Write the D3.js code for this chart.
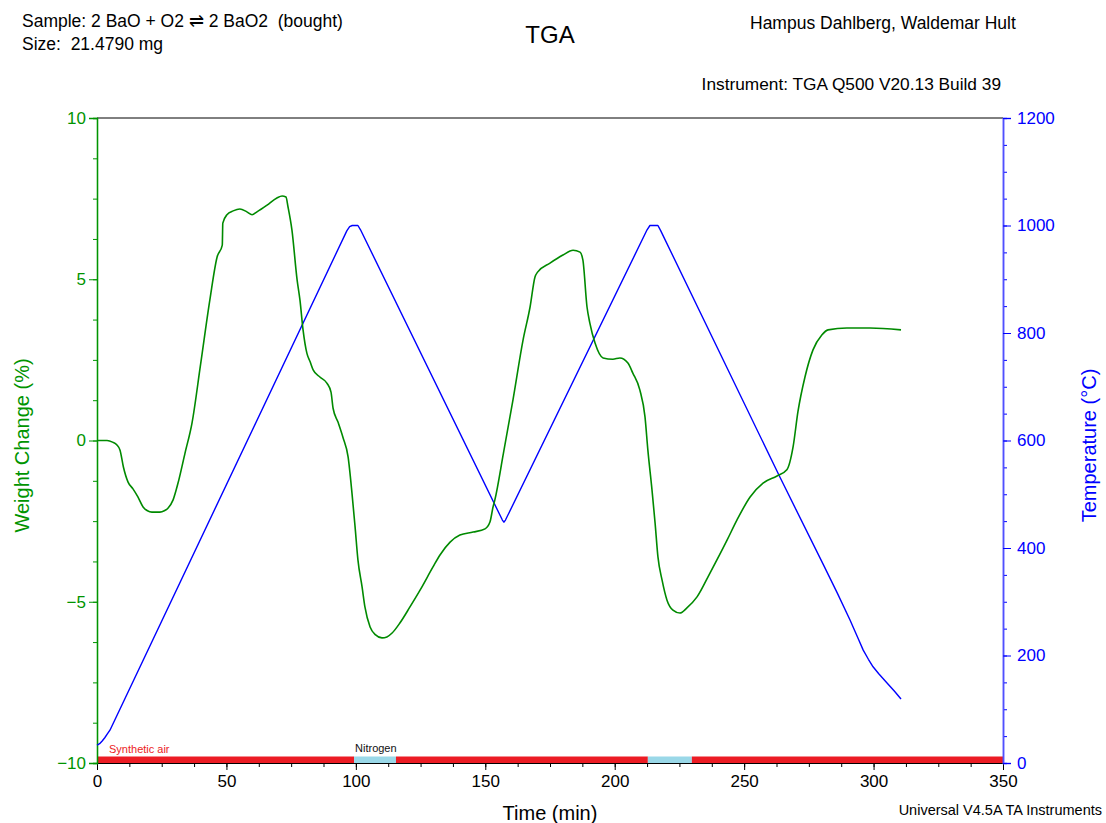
<!DOCTYPE html>
<html>
<head>
<meta charset="utf-8">
<script src="https://cdn.jsdelivr.net/npm/d3@7"></script>
<style>
  html, body { margin: 0; padding: 0; background: #fff; }
  svg { display: block; font-family: "Liberation Sans", Arial, sans-serif; }
</style>
</head>
<body>
<svg id="chart" width="1106" height="823"></svg>
<script>
// Weight change trace (time in min, weight change in %)
const weightTime = [0, 3.9, 6, 7.7, 8.9, 10.2, 12, 13.9, 15.8, 17.8, 19.5, 21.2, 24.3, 26, 27.4, 29.4, 31.3, 34, 36.7,
  40, 43.6, 46.4, 48.4, 48.6, 50.2, 52.6, 55.2, 57.9, 59.9, 61.8, 65.7, 69.5, 71.5, 73, 73.8, 75.3, 77.3, 78.4, 79.6,
  81.1, 82.3, 83.5, 86.1, 88.8, 90.4, 91.2, 93.1, 95, 97, 98.5, 99.7, 100.8, 102.4, 103.5, 105.5, 107.5, 110.1, 112,
  114, 117, 120.9, 124.8, 129.8, 132.5, 136.4, 140.2, 145.3, 149.9, 151.8, 153, 153.7, 157, 160.7, 164.6, 167.3, 169.2,
  170.2, 175, 180, 183.9, 186.6, 187.7, 189.3, 190.4, 192.4, 195.5, 199.3, 202, 205.1, 207, 209.7, 211.7, 212.8, 214.4,
  215.6, 216.7, 218.3, 220.2, 222.5, 225.2, 227.9, 231.8, 236.8, 243.4, 247.2, 252.3, 257.3, 262.7, 266.5, 268.9,
  270.8, 273.5, 276.6, 280, 282.4, 289.7, 298.6, 310.6];
const weightPct = [0, 0, -0.05, -0.14, -0.3, -0.82, -1.29, -1.5, -1.75, -2.06, -2.18, -2.22, -2.22, -2.18, -2.1, -1.84, -1.32, -0.39, 0.54,
  2.35, 4.36, 5.69, 6.06, 6.74, 7.0, 7.12, 7.18, 7.09, 7.0, 7.09, 7.3, 7.52, 7.58, 7.55, 7.24, 6.53, 4.98, 4.36, 3.43,
  2.7, 2.45, 2.19, 1.97, 1.78, 1.5, 1.0, 0.57, 0.1, -0.51, -1.63, -2.68, -3.7, -4.54, -5.16, -5.78, -6.02, -6.12, -6.09,
  -5.97, -5.66, -5.16, -4.64, -3.92, -3.55, -3.15, -2.93, -2.84, -2.74, -2.53, -2.06, -1.84, -0.4, 1.26, 3.12, 4.14, 5.07,
  5.22, 5.5, 5.75, 5.9, 5.84, 5.6, 4.14, 3.64, 3.02, 2.56, 2.52, 2.56, 2.4, 2.09, 1.57, 0.73, -0.29, -1.53,
  -2.56, -3.61, -4.33, -4.95, -5.26, -5.35, -5.19, -4.85, -4.11, -3.09, -2.47, -1.75, -1.32, -1.1, -0.91, -0.2,
  0.9, 1.97, 2.81, 3.27, 3.43, 3.49, 3.49, 3.43];

// Temperature programme (time in min, temperature in °C)
const tempTime = [0, 1, 2, 3, 4, 5, 96.5, 97.6, 98.6, 100.8, 101.8, 156.6, 157.2, 157.8, 212.5, 213.6, 216.7, 217.8,
  263.8, 280.5, 286, 290.9, 294, 296, 298, 299.8, 302, 305.2, 308, 310.6];
const tempC    = [33, 36, 41, 47, 54, 61, 990, 998, 1000, 1000, 992, 452, 448, 452, 992, 1000, 1000, 990,
  532, 370, 316, 266, 232, 210, 193, 179, 166, 149, 134, 119];

// Purge gas segments
const gasStart = [0, 99.3, 115.5, 212.8, 229.8];
const gasEnd   = [99.3, 115.5, 212.8, 229.8, 350];
const gasName  = ["Synthetic air", "Nitrogen", "Synthetic air", "Nitrogen", "Synthetic air"];

// Axis ticks
const timeTicks = [0, 50, 100, 150, 200, 250, 300, 350];
const weightTicks = [-10, -5, 0, 5, 10];
const tempTicks = [0, 200, 400, 600, 800, 1000, 1200];

const GREEN = "#008a00", GREEN_TXT = "#009400", BLUE = "#0000ff", BLUE_AXIS = "#5050ff";
const RED = "#ec1c24", CYAN = "#9ad8e8";

const svg = d3.select("#chart");
const L = 97, R = 1003, T = 118, B = 763;

const x = d3.scaleLinear().domain([0, 350]).range([L, R]);
const yW = d3.scaleLinear().domain([-10, 10]).range([B, T]);
const yT = d3.scaleLinear().domain([0, 1200]).range([B, T]);

// Gas bar along the bottom of the plot
const gas = gasStart.map((s, i) => ({ s, e: gasEnd[i], name: gasName[i] }));
svg.append("g").selectAll("rect").data(gas).join("rect")
  .attr("x", d => x(d.s)).attr("width", d => x(d.e) - x(d.s))
  .attr("y", B - 6.5).attr("height", 6.5)
  .attr("fill", d => d.name === "Nitrogen" ? CYAN : RED);
svg.append("text").attr("x", x(gasStart[0]) + 12).attr("y", B - 10)
  .attr("font-size", 11).attr("fill", RED).text(gasName[0]);
svg.append("text").attr("x", x(gasStart[1]) + 1).attr("y", B - 11)
  .attr("font-size", 11).attr("fill", "#111").text(gasName[1]);

// Top frame line
svg.append("line").attr("x1", L).attr("x2", R).attr("y1", T).attr("y2", T)
  .attr("stroke", "#000").attr("stroke-width", 1);

// Axes with minor ticks
function minorRange(lo, hi, step) { const a = []; for (let v = lo; v <= hi + 1e-9; v += step) a.push(+v.toFixed(4)); return a; }

const bottomMinor = svg.append("g").attr("transform", `translate(0,${B})`)
  .call(d3.axisBottom(x).tickValues(minorRange(0, 350, 12.5)).tickSize(4).tickFormat(""));
const bottom = svg.append("g").attr("transform", `translate(0,${B})`)
  .call(d3.axisBottom(x).tickValues(timeTicks).tickSize(7).tickPadding(5).tickFormat(d3.format("d")));
[bottomMinor, bottom].forEach(g => { g.select(".domain").attr("stroke", "#000"); g.selectAll(".tick line").attr("stroke", "#000"); });
bottom.selectAll("text").attr("font-size", 17).attr("fill", "#000").attr("font-family", "Liberation Sans, Arial");

const leftMinor = svg.append("g").attr("transform", `translate(${L},0)`)
  .call(d3.axisLeft(yW).tickValues(minorRange(-10, 10, 1.25)).tickSize(4).tickFormat(""));
const left = svg.append("g").attr("transform", `translate(${L},0)`)
  .call(d3.axisLeft(yW).tickValues(weightTicks).tickSize(8).tickPadding(3).tickFormat(d3.format("d")));
[leftMinor, left].forEach(g => { g.select(".domain").attr("stroke", GREEN_TXT).attr("stroke-width", 1.3); g.selectAll(".tick line").attr("stroke", GREEN_TXT); });
left.selectAll("text").attr("font-size", 17).attr("fill", GREEN_TXT).attr("font-family", "Liberation Sans, Arial");

const rightMinor = svg.append("g").attr("transform", `translate(${R},0)`)
  .call(d3.axisRight(yT).tickValues(minorRange(0, 1200, 50)).tickSize(4).tickFormat(""));
const right = svg.append("g").attr("transform", `translate(${R},0)`)
  .call(d3.axisRight(yT).tickValues(tempTicks).tickSize(8).tickPadding(6).tickFormat(d3.format("d")));
[rightMinor, right].forEach(g => { g.select(".domain").attr("stroke", BLUE_AXIS).attr("stroke-width", 1.5); g.selectAll(".tick line").attr("stroke", BLUE); });
right.selectAll("text").attr("font-size", 17).attr("fill", BLUE).attr("font-family", "Liberation Sans, Arial");

// Curves
const weightData = weightTime.map((t, i) => [t, weightPct[i]]);
const tempData = tempTime.map((t, i) => [t, tempC[i]]);

svg.append("path").datum(tempData)
  .attr("fill", "none").attr("stroke", BLUE).attr("stroke-width", 1.4).attr("stroke-linejoin", "round")
  .attr("d", d3.line().x(d => x(d[0])).y(d => yT(d[1])).curve(d3.curveLinear));

svg.append("path").datum(weightData)
  .attr("fill", "none").attr("stroke", GREEN).attr("stroke-width", 1.6)
  .attr("d", d3.line().x(d => x(d[0])).y(d => yW(d[1])).curve(d3.curveMonotoneX));

// Axis titles
svg.append("text").attr("x", (L + R) / 2).attr("y", 820).attr("text-anchor", "middle")
  .attr("font-size", 20).attr("fill", "#000").text("Time (min)");
svg.append("text").attr("transform", `translate(29,${(T + B) / 2 + 5}) rotate(-90)`).attr("text-anchor", "middle")
  .attr("font-size", 20).attr("fill", GREEN_TXT).text("Weight Change (%)");
svg.append("text").attr("transform", `translate(1096,${(T + B) / 2 + 5}) rotate(-90)`).attr("text-anchor", "middle")
  .attr("font-size", 20).attr("fill", BLUE).text("Temperature (°C)");

// Header texts
svg.append("text").attr("x", 22).attr("y", 27).attr("font-size", 17.5).attr("fill", "#000")
  .attr("xml:space", "preserve").text("Sample: 2 BaO + O2 \u21CC 2 BaO2  (bought)");
svg.append("text").attr("x", 22).attr("y", 50).attr("font-size", 17.5).attr("fill", "#000")
  .attr("xml:space", "preserve").text("Size:  21.4790 mg");
svg.append("text").attr("x", 550).attr("y", 43).attr("text-anchor", "middle").attr("font-size", 24).attr("fill", "#000").text("TGA");
svg.append("text").attr("x", 750).attr("y", 29).attr("font-size", 17.5).attr("fill", "#000").text("Hampus Dahlberg, Waldemar Hult");
svg.append("text").attr("x", 1001).attr("y", 90).attr("text-anchor", "end").attr("font-size", 17.3).attr("fill", "#000").text("Instrument: TGA Q500 V20.13 Build 39");
svg.append("text").attr("x", 1102).attr("y", 815).attr("text-anchor", "end").attr("font-size", 14.5).attr("fill", "#000").text("Universal V4.5A TA Instruments");
</script>
</body>
</html>
